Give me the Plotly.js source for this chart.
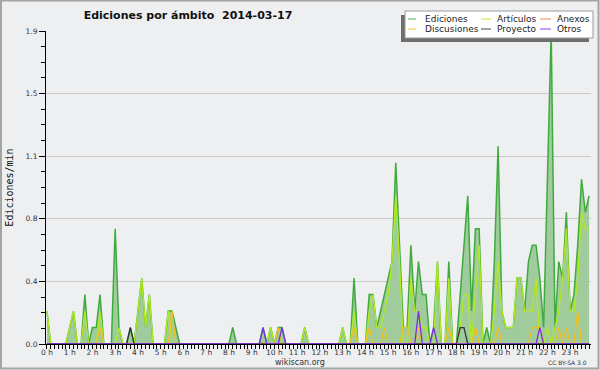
<!DOCTYPE html>
<html>
<head>
<meta charset="utf-8">
<script src="https://cdn.plot.ly/plotly-3.0.1.min.js"></script>
<style>
  html, body { margin: 0; padding: 0; background: #eeeff1; }
  #chart { width: 600px; height: 370px; }
</style>
</head>
<body>
<div id="chart"></div>
<script>
// ---- Data: edits per minute, 10-minute slots, 2014-03-17 ----
const hourLabels = ["0 h","1 h","2 h","3 h","4 h","5 h","6 h","7 h","8 h","9 h","10 h","11 h",
                    "12 h","13 h","14 h","15 h","16 h","17 h","18 h","19 h","20 h","21 h","22 h","23 h"];
const hourTicks = [0,1,2,3,4,5,6,7,8,9,10,11,12,13,14,15,16,17,18,19,20,21,22,23];
const yTickVals = [0, 0.38, 0.76, 1.14, 1.52, 1.9];
const yTickLabels = ["0.0","0.4","0.8","1.1","1.5","1.9"];

const ediciones = [
  0.2,0,0,0,0,0,0.1,0.2,0,0,0.3,0,
  0.1,0.1,0.3,0,0,0,0.7,0.1,0,0,0.1,0,
  0.2,0.4,0.1,0.3,0,0,0,0,0.2,0.2,0.1,0,
  0,0,0,0,0,0,0,0,0,0,0,0,
  0,0.1,0,0,0,0,0,0,0,0.1,0,0.1,
  0,0.1,0.1,0,0,0,0,0,0.1,0,0,0,
  0,0,0,0,0,0,0.1,0,0,0.4,0,0,
  0,0.3,0.3,0.1,0.2,0.3,0.4,0.5,1.1,0.6,0.1,0.1,
  0.6,0.2,0.5,0.3,0.3,0,0.1,0.5,0,0,0.5,0,
  0,0.3,0.6,0.9,0.2,0.7,0.7,0,0.1,0,0.5,1.2,
  0.2,0.1,0.1,0.1,0.4,0.4,0.2,0.5,0.6,0.6,0.4,0.1,
  1.0,1.9,0.1,0.5,0.4,0.8,0.2,0.3,0.6,1.0,0.8,0.9
];
const articulos = [
  0.2,0,0,0,0,0,0.1,0.2,0,0,0.2,0,
  0,0,0.2,0,0,0,0,0.1,0,0,0,0,
  0.2,0.4,0.1,0.3,0,0,0,0,0.2,0,0,0,
  0,0,0,0,0,0,0,0,0,0,0,0,
  0,0,0,0,0,0,0,0,0,0,0,0.1,
  0,0,0,0,0,0,0,0,0.1,0,0,0,
  0,0,0,0,0,0,0.1,0,0,0.2,0,0,
  0,0.2,0.3,0.1,0.1,0.2,0.3,0.5,0.9,0.5,0,0,
  0.4,0.2,0.2,0.1,0.1,0,0,0.5,0,0,0.4,0,
  0,0.1,0.3,0.3,0,0.3,0.6,0,0,0,0.2,0.5,
  0.2,0.1,0.1,0.1,0.4,0.4,0.2,0.2,0.2,0.4,0,0,
  0.1,0,0.1,0.2,0.4,0.7,0.2,0.2,0.4,0.8,0.7,0.7
];
const anexos = [
  0,0,0,0,0,0,0,0,0,0,0,0,
  0,0,0,0,0,0,0,0,0,0,0,0,
  0,0,0,0,0,0,0,0,0,0,0,0,
  0,0,0,0,0,0,0,0,0,0,0,0,
  0,0,0,0,0,0,0,0,0,0,0,0,
  0,0,0,0,0,0,0,0,0,0,0,0,
  0,0,0,0,0,0,0,0,0,0,0,0,
  0,0,0,0,0,0,0,0,0,0,0,0,
  0,0,0,0,0,0,0,0,0,0,0,0,
  0,0,0,0,0,0,0,0,0,0,0,0,
  0,0,0,0,0,0,0,0,0,0,0,0,
  0,0,0,0,0,0,0,0,0,0,0,0
];
const discusiones = [
  0,0,0,0,0,0,0,0,0,0,0,0,
  0,0,0.1,0,0,0,0,0,0,0,0,0,
  0,0,0,0,0,0,0,0,0,0.2,0,0,
  0,0,0,0,0,0,0,0,0,0,0,0,
  0,0,0,0,0,0,0,0,0,0,0,0,
  0,0.1,0,0,0,0,0,0,0,0,0,0,
  0,0,0,0,0,0,0,0,0,0.1,0,0,
  0,0.1,0,0,0,0.1,0,0,0,0,0.1,0.1,
  0,0,0.1,0,0,0,0,0,0,0,0.1,0,
  0,0,0,0,0,0.1,0,0,0,0,0,0.1,
  0,0,0,0,0,0,0,0,0.1,0.1,0.1,0,
  0,0,0,0.1,0,0.1,0,0,0.2,0,0,0
];
const proyecto = [
  0,0,0,0,0,0,0,0,0,0,0,0,
  0,0,0,0,0,0,0,0,0,0,0.1,0,
  0,0,0,0,0,0,0,0,0,0,0,0,
  0,0,0,0,0,0,0,0,0,0,0,0,
  0,0,0,0,0,0,0,0,0,0,0,0,
  0,0,0,0,0,0,0,0,0,0,0,0,
  0,0,0,0,0,0,0,0,0,0,0,0,
  0,0,0,0,0,0,0,0,0,0,0,0,
  0,0,0,0,0,0,0,0,0,0,0,0,
  0,0.1,0.1,0,0,0,0,0,0,0,0,0,
  0,0,0,0,0,0,0,0,0,0,0,0,
  0,0,0,0,0,0,0,0,0,0,0,0
];
const otros = [
  0,0,0,0,0,0,0,0,0,0,0,0,
  0,0,0,0,0,0,0,0,0,0,0,0,
  0,0,0,0,0,0,0,0,0,0,0,0,
  0,0,0,0,0,0,0,0,0,0,0,0,
  0,0,0,0,0,0,0,0,0,0.1,0,0,
  0,0,0.1,0,0,0,0,0,0,0,0,0,
  0,0,0,0,0,0,0,0,0,0,0,0,
  0,0,0,0,0,0,0,0,0,0,0,0,
  0,0,0.2,0,0,0,0.1,0,0,0,0,0,
  0,0,0,0,0,0,0,0,0,0,0,0,
  0,0,0,0,0,0,0,0,0,0,0.1,0,
  0,0,0,0,0,0,0,0,0,0,0,0
];
const seriesNames = ["Ediciones","Artículos","Anexos","Discusiones","Proyecto","Otros"];

// time axis in hours (10-minute slots)
const slotHours = ediciones.map((_, i) => i / 6);

// ---- Styles ----
const colors = {
  Ediciones: "#3fab3f",
  "Artículos": "#b2ea1e",
  Anexos: "#f07a48",
  Discusiones: "#f2c01e",
  Proyecto: "#333333",
  Otros: "#7b2ee6"
};
const fillColor = "#a0cb9d";
const bg = "#eeeff1";
const font = "DejaVu Sans";

const seriesData = [ediciones, articulos, anexos, discusiones, proyecto, otros];
const traces = seriesNames.map((name, k) => {
  const t = {
    type: "scatter", mode: "lines", name: name,
    x: slotHours, y: seriesData[k],
    line: { color: colors[name], width: k === 0 ? 1.5 : 1.3, shape: "linear" },
    hoverinfo: "skip"
  };
  if (k === 0) { t.fill = "tozeroy"; t.fillcolor = fillColor; }
  return t;
});

// plot area in pixels (for legend / border placement)
const L = 46, R = 591, T = 31, B = 344;
const px = x => (x - L) / (R - L);
const py = y => (B - y) / (B - T);

const shapes = [];
const annotations = [];

// outer frame
shapes.push({ type: "rect", xref: "paper", yref: "paper",
  x0: px(1), x1: px(598.5), y0: py(368.5), y1: py(0.5),
  line: { color: "#a4a4a4", width: 2 }, fillcolor: "rgba(0,0,0,0)", layer: "above" });

// legend box with shadow
shapes.push({ type: "rect", xref: "paper", yref: "paper",
  x0: px(401), x1: px(589), y0: py(42), y1: py(15),
  line: { width: 0 }, fillcolor: "#6e6e6e", layer: "above" });
shapes.push({ type: "rect", xref: "paper", yref: "paper",
  x0: px(405), x1: px(593), y0: py(38), y1: py(11),
  line: { color: "#9a9a9a", width: 1 }, fillcolor: "#ffffff", layer: "above" });

const legendCols = [
  { lx0: 408, lx1: 416, tx: 423 },
  { lx0: 481, lx1: 491, tx: 495 },
  { lx0: 540, lx1: 551, tx: 555 }
];
const legendRows = [19, 29];
const legendLayout = [
  ["Ediciones", 0, 0], ["Artículos", 1, 0], ["Anexos", 2, 0],
  ["Discusiones", 0, 1], ["Proyecto", 1, 1], ["Otros", 2, 1]
];
legendLayout.forEach(([name, c, r]) => {
  const col = legendCols[c], yy = legendRows[r];
  shapes.push({ type: "line", xref: "paper", yref: "paper",
    x0: px(col.lx0), x1: px(col.lx1), y0: py(yy), y1: py(yy),
    line: { color: colors[name], width: 1.2 }, opacity: 0.75, layer: "above" });
  annotations.push({ xref: "paper", yref: "paper", x: px(col.tx), y: py(yy),
    xanchor: "left", yanchor: "middle", showarrow: false, text: name,
    font: { family: font, size: 9, color: "#222" } });
});

// footer texts
annotations.push({ xref: "paper", yref: "paper", x: px(300), y: py(362.5),
  xanchor: "center", yanchor: "middle", showarrow: false, text: "wikiscan.org",
  font: { family: font, size: 8, color: "#333" } });
annotations.push({ xref: "paper", yref: "paper", x: px(589), y: py(362.5),
  xanchor: "right", yanchor: "middle", showarrow: false, text: "CC BY-SA 3.0",
  font: { family: font, size: 6, color: "#333" } });

const layout = {
  width: 600, height: 370,
  paper_bgcolor: bg, plot_bgcolor: bg,
  margin: { l: L, r: 600 - R, t: T, b: 370 - B, pad: 0 },
  showlegend: false,
  title: {
    text: "Ediciones por ámbito\u00a0\u00a02014-03-17",
    font: { family: font, size: 11, weight: 700, color: "#111" },
    x: 188 / 600, xanchor: "center", xref: "container",
    y: 1 - 15 / 370, yanchor: "middle", yref: "container"
  },
  xaxis: {
    range: [-0.25 / 6, 143.5 / 6],
    tickmode: "array", tickvals: hourTicks, ticktext: hourLabels,
    ticks: "outside", ticklen: 4, tickwidth: 1, tickcolor: "#000",
    ticklabelstandoff: -3,
    showline: true, linecolor: "#000", linewidth: 1,
    showgrid: false, zeroline: false,
    tickfont: { family: font, size: 7.5, color: "#333" },
    minor: { tickmode: "linear", tick0: 0, dtick: 1 / 6, ticks: "outside", ticklen: 4,
             tickwidth: 1, tickcolor: "#000", showgrid: false },
    fixedrange: true
  },
  yaxis: {
    range: [0, 1.9],
    tickmode: "array", tickvals: yTickVals, ticktext: yTickLabels,
    ticks: "outside", ticklen: 6, tickwidth: 1, tickcolor: "#000",
    showline: true, linecolor: "#000", linewidth: 1,
    showgrid: true, gridcolor: "#c9c9c9", gridwidth: 1, zeroline: false,
    tickfont: { family: font, size: 7.5, color: "#333" },
    minor: { tickmode: "linear", tick0: 0, dtick: 0.095, ticks: "outside", ticklen: 4,
             tickwidth: 1, tickcolor: "#000", showgrid: false },
    title: { text: "Ediciones/min", font: { family: "DejaVu Sans Mono", size: 10, color: "#111" }, standoff: 10 },
    fixedrange: true
  },
  shapes: shapes,
  annotations: annotations
};

Plotly.newPlot("chart", traces, layout, { displayModeBar: false, staticPlot: true });
</script>
</body>
</html>
